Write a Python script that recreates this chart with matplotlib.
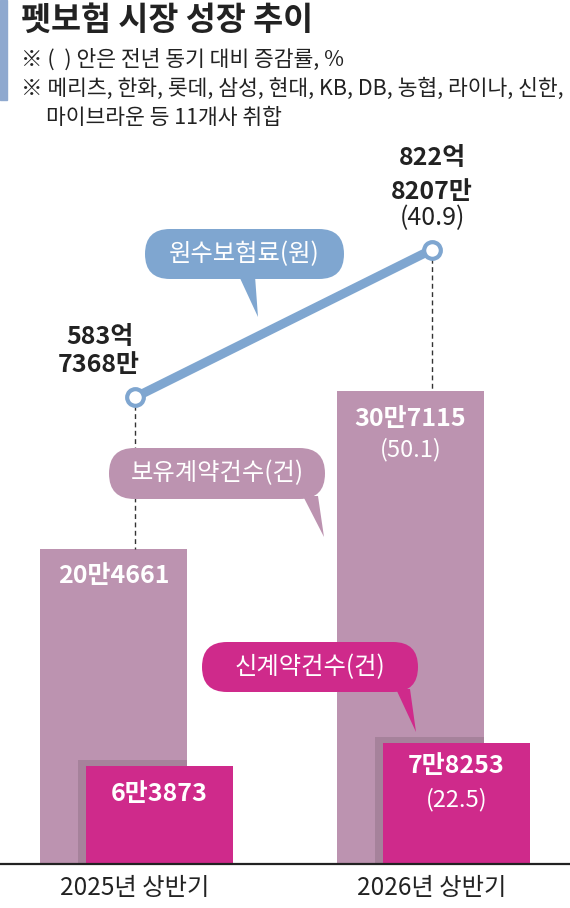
import numpy as np
import matplotlib
matplotlib.use('Agg')
import matplotlib.pyplot as plt
from matplotlib.patches import FancyBboxPatch, Polygon, Rectangle

plt.rcParams['font.family'] = ['Noto Sans CJK KR', 'DejaVu Sans']

# 데이터
periods = ['2025년 상반기', '2026년 상반기']
held = [204661, 307115]          # 보유계약건수(건)
new = [63873, 78253]             # 신계약건수(건)
premium = [583.7368, 822.8207]   # 원수보험료(억원)
held_labels = ['20만4661', '30만7115']
held_growth = [None, '(50.1)']
new_labels = ['6만3873', '7만8253']
new_growth = [None, '(22.5)']
premium_labels = [['583억', '7368만'], ['822억', '8207만', '(40.9)']]

PURPLE = '#bc93b0'
SHADOW = '#a6829b'
PINK = '#cf2a8b'
BLUE = '#7fa6d0'
DARK = '#222222'

fig = plt.figure(figsize=(5.7, 9.08), dpi=100)

# 막대 영역
ax = fig.add_axes([0, 44 / 908, 1, 724 / 908])
ax.set_xlim(-135 / 297, 435 / 297)
ax.set_ylim(0, 470000)
x = np.arange(len(periods))

w = 0.495
off_held = -0.0724
off_new = 0.0825
ax.bar(x + off_held, held, width=w, color=PURPLE, zorder=1)
# 그림자 (신계약 막대 뒤)
sh_left = x + off_new - w / 2 - 8 / 297
sh_right = x + off_held + w / 2
ax.bar(sh_left, np.array(new) + 3900, width=sh_right - sh_left, align='edge',
       color=SHADOW, zorder=2)
ax.bar(x + off_new, new, width=w, color=PINK, zorder=3)
ax.axhline(0, color=DARK, lw=1.6, zorder=5, clip_on=False)

for sp in ax.spines.values():
    sp.set_visible(False)
ax.set_yticks([])
ax.set_xticks(x, periods, fontsize=17.5, color=DARK)
ax.tick_params(axis='x', length=0, pad=8)

# 막대 라벨
held_off = [-27, -28]
for i in range(len(x)):
    ax.annotate(held_labels[i], (x[i] + off_held, held[i]), xytext=(0, held_off[i]),
                textcoords='offset pixels', ha='center', va='center',
                fontsize=18, weight='bold', color='white', zorder=6)
    if held_growth[i]:
        ax.annotate(held_growth[i], (x[i] + off_held, held[i]), xytext=(0, -59),
                    textcoords='offset pixels', ha='center', va='center',
                    fontsize=17, color='white', zorder=6)
new_off = [-28, -23]
for i in range(len(x)):
    ax.annotate(new_labels[i], (x[i] + off_new, new[i]), xytext=(0, new_off[i]),
                textcoords='offset pixels', ha='center', va='center',
                fontsize=18, weight='bold', color='white', zorder=6)
    if new_growth[i]:
        ax.annotate(new_growth[i], (x[i] + off_new, new[i]), xytext=(0, -56),
                    textcoords='offset pixels', ha='center', va='center',
                    fontsize=17, color='white', zorder=6)

# 원수보험료 선
ax2 = ax.twinx()
ax2.set_ylim(-171, 1000)
ax2.set_yticks([])
for sp in ax2.spines.values():
    sp.set_visible(False)

for i in range(len(x)):
    disp = ax.transData.transform((x[i], held[i]))
    y_bar = ax2.transData.inverted().transform(disp)[1]
    ax2.plot([x[i], x[i]], [premium[i], y_bar], color='#333333', lw=1.0,
             ls=(0, (3.5, 2.5)), zorder=1)

ax2.plot(x, premium, color=BLUE, lw=6.5, marker='o', ms=12, mfc='white',
         mec=BLUE, mew=3, zorder=3, solid_capstyle='butt')

prem_offsets = [[(-35, 60), (-36, 32)], [(0, 92), (0, 58), (0, 31)]]
for i in range(len(x)):
    for j, txt in enumerate(premium_labels[i]):
        bold = not txt.startswith('(')
        ax2.annotate(txt, (x[i], premium[i]), xytext=prem_offsets[i][j],
                     textcoords='offset pixels', ha='center', va='center',
                     fontsize=18, weight='bold' if bold else 'normal', color=DARK)

# 장식 (제목, 말풍선)
deco = fig.add_axes([0, 0, 1, 1], zorder=10)
deco.set_xlim(0, 570)
deco.set_ylim(908, 0)
deco.axis('off')

deco.add_patch(Rectangle((0, 0), 7, 100, color='#8fa9cf'))
deco.text(21, 20, '펫보험 시장 성장 추이', fontsize=23.5, weight='bold', color=DARK, va='center')
deco.text(21, 60, '※ (  ) 안은 전년 동기 대비 증감률, %', fontsize=15.5, color=DARK, va='center')
deco.text(21, 89, '※ 메리츠, 한화, 롯데, 삼성, 현대, KB, DB, 농협, 라이나, 신한,',
          fontsize=15.5, color=DARK, va='center')
deco.text(46, 118, '마이브라운 등 11개사 취합', fontsize=15.5, color=DARK, va='center')


def bubble(x0, y0, x1, y1, tail, color, text):
    deco.add_patch(Polygon(tail, closed=True, color=color, lw=0))
    h = y1 - y0
    deco.add_patch(FancyBboxPatch((x0, y0), x1 - x0, h,
                                  boxstyle=f'round,pad=0,rounding_size={h / 2}',
                                  color=color, lw=0))
    deco.text((x0 + x1) / 2, (y0 + y1) / 2, text, ha='center', va='center',
              fontsize=17.5, color='white')


bubble(145, 229, 344, 279, [(239, 276), (255, 276), (258, 317)], BLUE, '원수보험료(원)')
bubble(109, 448, 325, 499, [(303, 496), (318, 496), (324, 537)], PURPLE, '보유계약건수(건)')
bubble(202, 642, 418, 692, [(396, 689), (410, 689), (416, 732)], PINK, '신계약건수(건)')

fig.savefig('out.png', dpi=100)
